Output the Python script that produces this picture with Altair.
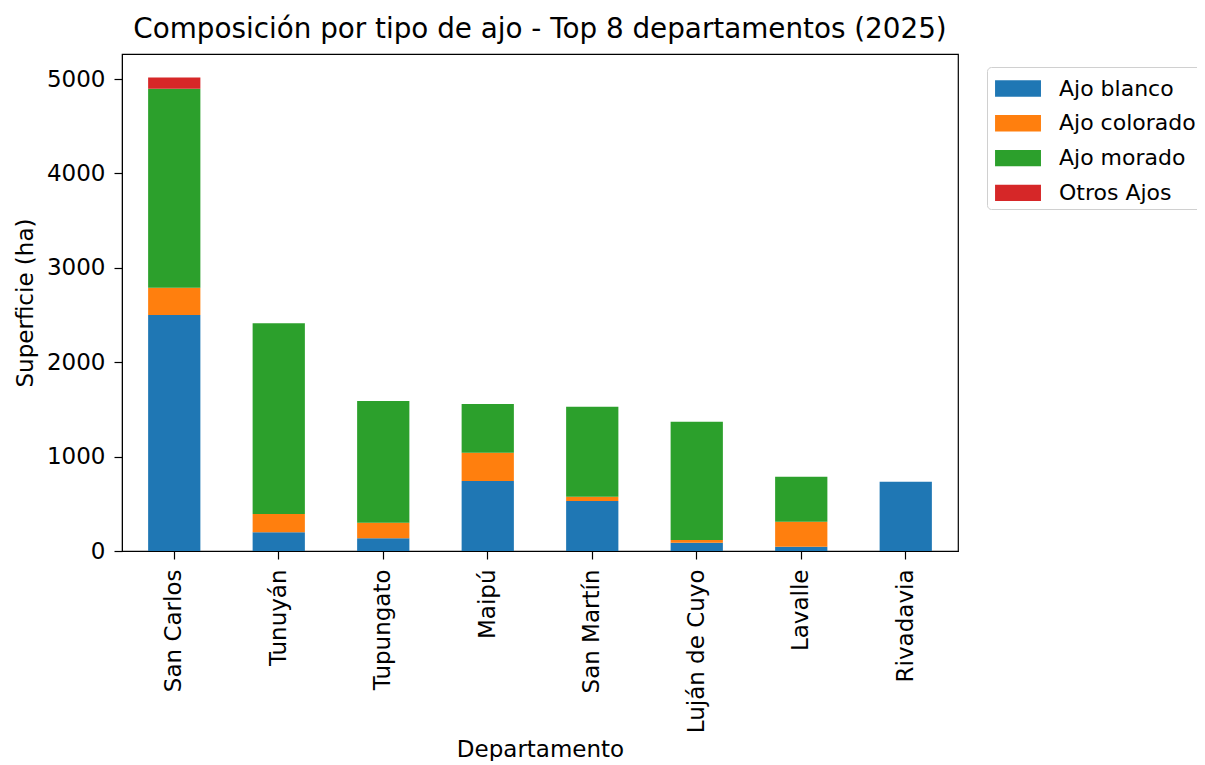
import altair as alt
import pandas as pd

departamentos = ["San Carlos", "Tunuyán", "Tupungato", "Maipú", "San Martín",
                 "Luján de Cuyo", "Lavalle", "Rivadavia"]
tipos = ["Ajo blanco", "Ajo colorado", "Ajo morado", "Otros Ajos"]
ajo_blanco = [2500, 198, 134, 741, 530, 88, 46, 734]
ajo_colorado = [290, 194, 166, 300, 45, 29, 264, 0]
ajo_morado = [2107, 2020, 1289, 516, 954, 1253, 477, 0]
otros_ajos = [120, 0, 0, 0, 0, 0, 0, 0]
colores = ["#1f77b4", "#ff7f0e", "#2ca02c", "#d62728"]
y_ticks = [0, 1000, 2000, 3000, 4000, 5000]

series = [ajo_blanco, ajo_colorado, ajo_morado, otros_ajos]
rows = []
for ti, (tipo, vals) in enumerate(zip(tipos, series)):
    for d, v in zip(departamentos, vals):
        rows.append({"Departamento": d, "Tipo": tipo, "Superficie": v, "ord": ti})
df = pd.DataFrame(rows)

FONT = "DejaVu Sans"
FS = 23
TFS = 27.8

chart = alt.Chart(df).mark_bar().encode(
    x=alt.X("Departamento:N", sort=departamentos,
            scale=alt.Scale(paddingInner=0.5, paddingOuter=0.25),
            axis=alt.Axis(title="Departamento", labelAngle=270, labelFontSize=FS,
                          titleFontSize=FS, titleFontWeight="normal", labelColor="black",
                          titleColor="black", tickColor="black", domainColor="black",
                          tickSize=8, tickWidth=1.2, labelPadding=10, titlePadding=6,
                          labelFont=FONT, titleFont=FONT)),
    y=alt.Y("Superficie:Q", stack="zero",
            scale=alt.Scale(domain=[0, 5266], nice=False),
            axis=alt.Axis(title="Superficie (ha)", values=y_ticks, format="d",
                          labelFontSize=FS, titleFontSize=FS, titleFontWeight="normal",
                          labelColor="black", titleColor="black", tickColor="black",
                          domainColor="black", tickSize=8, tickWidth=1.2, labelPadding=9,
                          titlePadding=9, grid=False, labelFont=FONT, titleFont=FONT)),
    color=alt.Color("Tipo:N", scale=alt.Scale(domain=tipos, range=colores),
                    legend=alt.Legend(title=None, orient="none", legendX=865, legendY=13,
                                      symbolType="M-0.82,-0.5H1.98V0.5H-0.82Z",
                                      symbolSize=1076, symbolStrokeWidth=0,
                                      labelFontSize=22, labelFont=FONT, labelColor="black",
                                      rowPadding=6.8, labelOffset=34,
                                      strokeColor="#d0d0d0", cornerRadius=4, padding=5,
                                      fillColor="white")),
    order=alt.Order("ord:Q", sort="ascending"),
).properties(
    width=836, height=497,
    title=alt.Title("Composición por tipo de ajo - Top 8 departamentos (2025)",
                    fontSize=TFS, font=FONT, fontWeight="normal", color="black", offset=10),
    autosize=alt.AutoSizeParams(type="none"),
    padding={"left": 114, "top": 46, "right": 239, "bottom": 210},
).configure_view(stroke="black", strokeWidth=1.2)

chart.save("out.html", embed_options={"renderer": "svg", "actions": False})
